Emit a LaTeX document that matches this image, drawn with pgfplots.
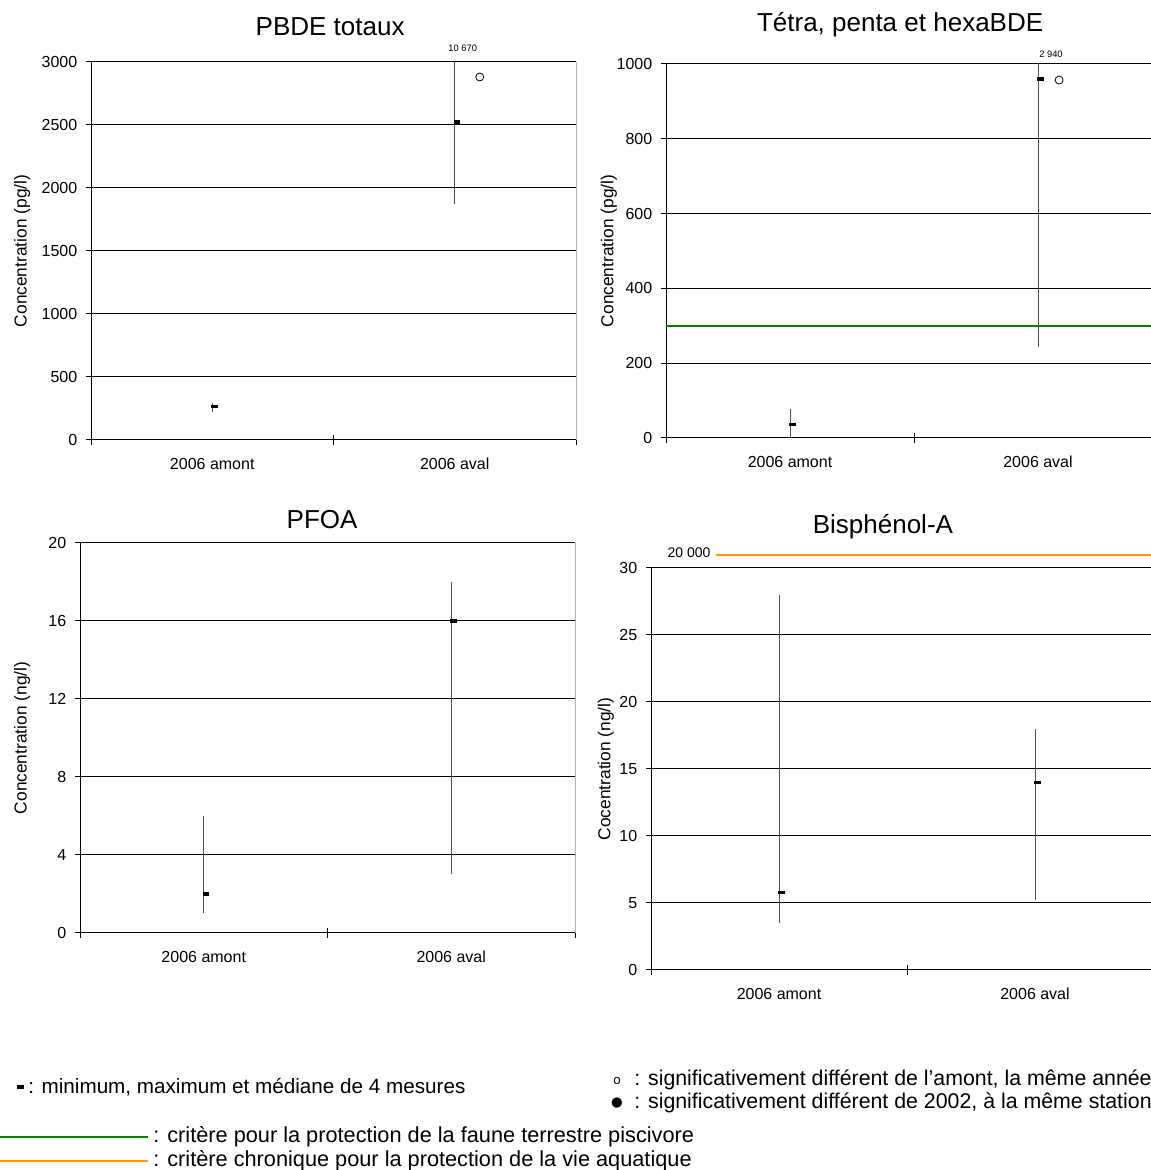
\documentclass[border=0pt]{standalone}
\usepackage{fontspec}
\setmainfont{Liberation Sans}
\newfontfamily\dejavu{DejaVu Sans}
\usepackage{pgfplots}
\pgfplotsset{compat=1.18}

\definecolor{critgreen}{RGB}{0,128,0}
\definecolor{critorange}{RGB}{255,153,0}
\definecolor{rangegray}{RGB}{80,80,80}

\pgfplotsset{
  panel/.style={
    scale only axis,
    anchor=south west,
    axis x line*=bottom, axis y line*=left,
    axis line style={black, line width=0.75pt, -},
    xmin=-0.5, xmax=1.5,
    xtick={-0.5,0.5,1.5}, xticklabels={},
    extra x ticks={0,1}, extra x tick labels={2006 amont,2006 aval},
    extra x tick style={major tick length=0pt, grid=none},
    tick align=center, major tick length=7.5pt,
    tick style={black, line width=0.75pt},
    ymajorgrids, grid style={black, line width=0.75pt},
    ticklabel style={font=\fontsize{12}{14}\selectfont},
    xticklabel style={anchor=north, text height=8.6pt, text depth=0pt, yshift=-10pt},
    yticklabel style={xshift=-3pt},
    /pgf/number format/assume math mode=true,
    /pgf/number format/1000 sep={},
    ymin=0,
    every axis y label/.style={rotate=90, anchor=center, font=\fontsize{13}{15}\selectfont},
    every axis title/.style={anchor=center, font=\fontsize{19.5}{22}\selectfont},
    after end axis/.code={\draw[gray!60, line width=0.75pt] (rel axis cs:1,0) -- (rel axis cs:1,1);},
    clip mode=individual,
  },
  rng/.style={rangegray, line width=0.75pt, mark=none},
  med/.style={only marks, mark=-, mark size=2.4pt, mark options={line width=2.4pt, black, xshift=1.8pt}},
  sig/.style={only marks, mark=o, mark size=3pt, mark options={black, line width=0.6pt}},
}

\begin{document}
\begin{tikzpicture}[x=0.75pt, y=0.75pt]

% ---------- Panel 1: PBDE totaux ----------
\begin{axis}[panel,
  at={(68.25pt,547.5pt)}, width=363.75pt, height=283.5pt,
  ymax=3000, ytick={0,500,...,3000},
  ylabel={Concentration (pg/l)},
  ylabel style={at={(axis description cs:-0.142,0.5)}},
  title={PBDE totaux},
  title style={at={(axis description cs:0.493,1.093)}},
]
\addplot[rng] coordinates {(0,222) (0,296)};
\addplot[rng] coordinates {(1,1873) (1,10670)};
\addplot[med] coordinates {(0,264) (1,2524)};
\addplot[sig] coordinates {(1.103,2881)};
\node[font=\fontsize{7}{8}\selectfont] at (axis cs:1,3000) [xshift=6pt, yshift=10.5pt] {10 670};
\end{axis}

% ---------- Panel 2: Tetra, penta et hexaBDE ----------
\begin{axis}[panel,
  at={(499.5pt,549pt)}, width=372pt, height=280.5pt,
  ymax=1000, ytick={0,200,...,1000},
  ylabel={Concentration (pg/l)},
  ylabel style={at={(axis description cs:-0.115,0.5)}},
  title={Tétra, penta et hexaBDE},
  title style={at={(axis description cs:0.472,1.104)}},
]
\addplot[critgreen, line width=1.5pt, mark=none] coordinates {(-0.5,300) (1.5,300)};
\addplot[rng] coordinates {(0,2) (0,78)};
\addplot[rng] coordinates {(1,243) (1,2940)};
\addplot[med] coordinates {(0,37) (1,960)};
\addplot[sig] coordinates {(1.085,957)};
\node[font=\fontsize{7}{8}\selectfont] at (axis cs:1,1000) [xshift=9.75pt, yshift=7.5pt] {2 940};
\end{axis}

% ---------- Panel 3: PFOA ----------
\begin{axis}[panel,
  at={(60pt,177.75pt)}, width=371.25pt, height=292.5pt,
  ymax=20, ytick={0,4,...,20},
  ylabel={Concentration (ng/l)},
  ylabel style={at={(axis description cs:-0.117,0.5)}},
  title={PFOA},
  title style={at={(axis description cs:0.489,1.059)}},
]
\addplot[rng] coordinates {(0,1) (0,6)};
\addplot[rng] coordinates {(1,3) (1,18)};
\addplot[med] coordinates {(0,2) (1,16)};
\end{axis}

% ---------- Panel 4: Bisphenol-A ----------
\begin{axis}[panel,
  at={(488.25pt,150pt)}, width=384pt, height=301.5pt,
  ymax=30, ytick={0,5,...,30},
  clip=false,
  ylabel={Cocentration (ng/l)},
  ylabel style={at={(axis description cs:-0.088,0.5)}},
  title={Bisphénol-A},
  title style={at={(axis description cs:0.453,1.102)}},
]
\addplot[critorange, line width=1.5pt, mark=none] coordinates {(-0.246,31) (1.5,31)};
\addplot[rng] coordinates {(0,3.5) (0,28)};
\addplot[rng] coordinates {(1,5.2) (1,18)};
\addplot[med] coordinates {(0,5.8) (1,14)};
\node[font=\fontsize{10.5}{12}\selectfont] at (axis cs:-0.5,31) [xshift=28.5pt, yshift=1.5pt] {20 000};
\end{axis}

% ---------- Legend ----------
\begin{scope}[font=\fontsize{15.5}{18}\selectfont]
\draw[black, line width=2.4pt] (17,83) -- (24,83);
\node[anchor=west, inner sep=0pt] at (28,83) {: minimum, maximum et médiane de 4 mesures};
\node[inner sep=0pt, font=\fontsize{10}{12}\selectfont] at (617,89) {o};
\node[anchor=west, inner sep=0pt, font=\fontsize{16}{18}\selectfont] at (634,90) {: significativement différent de l’amont, la même année};
\node[inner sep=0pt, font=\dejavu\fontsize{10}{12}\selectfont] at (617,67) {●};
\node[anchor=west, inner sep=0pt, font=\fontsize{16}{18}\selectfont] at (634,67) {: significativement différent de 2002, à la même station};
\draw[critgreen, line width=1.5pt] (0,33) -- (148,33);
\node[anchor=west, inner sep=0pt, font=\fontsize{16.3}{18}\selectfont] at (153,33) {: critère pour la protection de la faune terrestre piscivore};
\draw[critorange, line width=1.5pt] (0,9) -- (148,9);
\node[anchor=west, inner sep=0pt, font=\fontsize{16.3}{18}\selectfont] at (153,9) {: critère chronique pour la protection de la vie aquatique};
\end{scope}

\pgfresetboundingbox
\useasboundingbox (0,0) rectangle (1150,1170);
\end{tikzpicture}
\end{document}
